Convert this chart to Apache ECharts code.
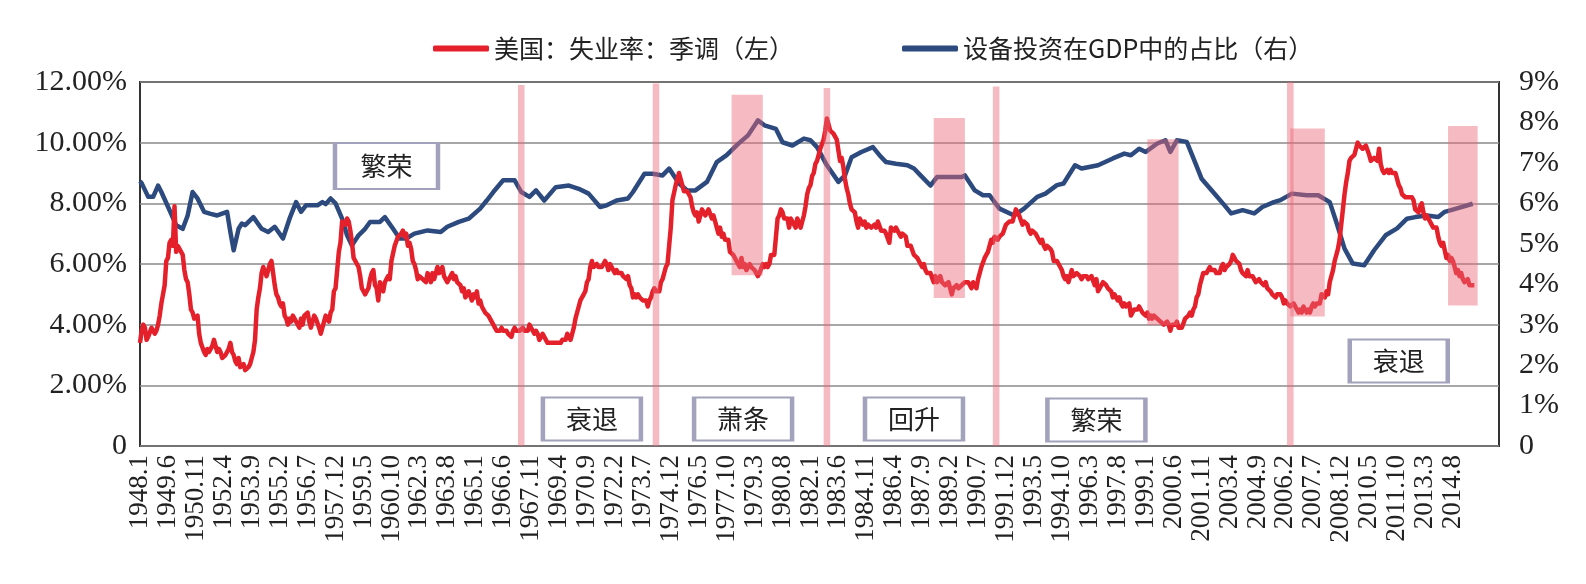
<!DOCTYPE html>
<html><head><meta charset="utf-8">
<script src="https://cdn.jsdelivr.net/npm/echarts@6/dist/echarts.min.js"></script>
<style>html,body{margin:0;padding:0;background:#fff}#c{width:1586px;height:584px}</style>
</head><body><div id="c"></div>
<script>
// ---- categories: monthly, 1948.1 .. 2016.12 ----
const firstYear = 1948, lastYear = 2016;
const categories = [];
for (let y = firstYear; y <= lastYear; y++) for (let m = 1; m <= 12; m++) categories.push(y + '.' + m);
const lastLabel = '2014.8';

// ---- series names ----
const nameUnemp = '美国：失业率：季调（左）';
const nameEquip = '设备投资在GDP中的占比（右）';

// ---- US unemployment rate, seasonally adjusted, monthly from 1948.1 (left axis, %) ----
const unemployment = [
3.4,3.8,4.0,3.9,3.5,3.6,3.6,3.9,3.8,3.7,3.8,4.0,
4.3,4.7,5.0,5.3,6.1,6.2,6.7,6.8,6.6,7.9,6.4,6.6,
6.5,6.4,6.3,5.8,5.5,5.4,5.0,4.5,4.4,4.2,4.2,4.3,
3.7,3.4,3.4,3.1,3.0,3.2,3.1,3.1,3.3,3.5,3.5,3.1,
3.2,3.1,2.9,2.9,3.0,3.0,3.2,3.4,3.1,3.0,2.8,2.7,
2.9,2.6,2.6,2.7,2.5,2.5,2.6,2.7,2.9,3.1,3.5,4.5,
4.9,5.2,5.7,5.9,5.9,5.6,5.8,6.0,6.1,5.7,5.3,5.0,
4.9,4.7,4.6,4.7,4.3,4.2,4.0,4.2,4.1,4.3,4.2,4.2,
4.0,3.9,4.2,4.0,4.3,4.3,4.4,4.1,3.9,3.9,4.3,4.2,
4.2,3.9,3.7,3.9,4.1,4.3,4.2,4.1,4.4,4.5,5.1,5.2,
5.8,6.4,6.7,7.4,7.4,7.3,7.5,7.4,7.1,6.7,6.2,6.2,
6.0,5.9,5.6,5.2,5.1,5.0,5.1,5.2,5.5,5.7,5.8,5.3,
5.2,4.8,5.4,5.2,5.1,5.4,5.5,5.6,5.5,6.1,6.1,6.6,
6.6,6.9,6.9,7.0,7.1,6.9,7.0,6.6,6.7,6.5,6.1,6.0,
5.8,5.5,5.6,5.6,5.5,5.5,5.4,5.7,5.6,5.4,5.7,5.5,
5.7,5.9,5.7,5.7,5.9,5.6,5.6,5.4,5.5,5.5,5.7,5.5,
5.6,5.4,5.4,5.3,5.1,5.2,4.9,5.0,5.1,5.1,4.8,5.0,
4.9,5.1,4.7,4.8,4.6,4.6,4.4,4.4,4.3,4.2,4.1,4.0,
4.0,3.8,3.8,3.8,3.9,3.8,3.8,3.8,3.7,3.7,3.6,3.8,
3.9,3.8,3.8,3.8,3.8,3.9,3.8,3.8,3.8,4.0,3.9,3.8,
3.7,3.8,3.7,3.5,3.5,3.7,3.7,3.5,3.4,3.4,3.4,3.4,
3.4,3.4,3.4,3.4,3.4,3.5,3.5,3.5,3.7,3.7,3.5,3.5,
3.9,4.2,4.4,4.6,4.8,4.9,5.0,5.1,5.4,5.5,5.9,6.1,
5.9,5.9,6.0,5.9,5.9,5.9,6.0,6.1,6.0,5.8,6.0,6.0,
5.8,5.7,5.8,5.7,5.7,5.7,5.6,5.6,5.5,5.6,5.3,5.2,
4.9,5.0,4.9,5.0,4.9,4.9,4.8,4.8,4.8,4.6,4.8,4.9,
5.1,5.2,5.1,5.1,5.1,5.4,5.5,5.5,5.9,6.0,6.6,7.2,
8.1,8.1,8.6,8.8,9.0,8.8,8.6,8.4,8.4,8.4,8.3,8.2,
7.9,7.7,7.6,7.7,7.4,7.6,7.8,7.8,7.6,7.7,7.8,7.8,
7.5,7.6,7.4,7.2,7.0,7.2,6.9,7.0,6.8,6.8,6.8,6.4,
6.4,6.3,6.3,6.1,6.0,5.9,6.2,5.9,6.0,5.8,5.9,6.0,
5.9,5.9,5.8,5.8,5.6,5.7,5.7,6.0,5.9,6.0,5.9,6.0,
6.3,6.3,6.3,6.9,7.5,7.6,7.8,7.7,7.5,7.5,7.5,7.2,
7.5,7.4,7.4,7.2,7.5,7.5,7.2,7.4,7.6,7.9,8.3,8.5,
8.6,8.9,9.0,9.3,9.4,9.6,9.8,9.8,10.1,10.4,10.8,10.8,
10.4,10.4,10.3,10.2,10.1,10.1,9.4,9.5,9.2,8.8,8.5,8.3,
8.0,7.8,7.8,7.7,7.4,7.2,7.5,7.5,7.3,7.4,7.2,7.3,
7.3,7.2,7.2,7.3,7.2,7.4,7.4,7.1,7.1,7.1,7.0,7.0,
6.7,7.2,7.2,7.1,7.2,7.2,7.0,6.9,7.0,7.0,6.9,6.6,
6.6,6.6,6.6,6.3,6.3,6.2,6.1,6.0,5.9,6.0,5.8,5.7,
5.7,5.7,5.7,5.4,5.6,5.4,5.4,5.6,5.4,5.4,5.3,5.3,
5.4,5.2,5.0,5.2,5.2,5.3,5.2,5.2,5.3,5.3,5.4,5.4,
5.4,5.3,5.2,5.4,5.4,5.2,5.5,5.7,5.9,5.9,6.2,6.3,
6.4,6.6,6.8,6.7,6.9,6.9,6.8,6.9,6.9,7.0,7.0,7.3,
7.3,7.4,7.4,7.4,7.6,7.8,7.7,7.6,7.6,7.3,7.4,7.4,
7.3,7.1,7.0,7.1,7.1,7.0,6.9,6.8,6.7,6.8,6.6,6.5,
6.6,6.6,6.5,6.4,6.1,6.1,6.1,6.0,5.9,5.8,5.6,5.5,
5.6,5.4,5.4,5.8,5.6,5.6,5.7,5.7,5.6,5.5,5.6,5.6,
5.6,5.5,5.5,5.6,5.6,5.3,5.5,5.1,5.2,5.2,5.4,5.4,
5.3,5.2,5.2,5.1,4.9,5.0,4.9,4.8,4.9,4.7,4.6,4.7,
4.6,4.6,4.7,4.3,4.4,4.5,4.5,4.5,4.6,4.5,4.4,4.4,
4.3,4.4,4.2,4.3,4.2,4.3,4.3,4.2,4.2,4.1,4.1,4.0,
4.0,4.1,4.0,3.8,4.0,4.0,4.0,4.1,3.9,3.9,3.9,3.9,
4.2,4.2,4.3,4.4,4.3,4.5,4.6,4.9,5.0,5.3,5.5,5.7,
5.7,5.7,5.7,5.9,5.8,5.8,5.8,5.7,5.7,5.7,5.9,6.0,
5.8,5.9,5.9,6.0,6.1,6.3,6.2,6.1,6.1,6.0,5.8,5.7,
5.7,5.6,5.8,5.6,5.6,5.6,5.5,5.4,5.4,5.5,5.4,5.4,
5.3,5.4,5.2,5.2,5.1,5.0,5.0,4.9,5.0,5.0,5.0,4.9,
4.7,4.8,4.7,4.7,4.6,4.6,4.7,4.7,4.5,4.4,4.5,4.4,
4.6,4.5,4.4,4.5,4.4,4.6,4.7,4.6,4.7,4.7,4.7,5.0,
5.0,4.9,5.1,5.0,5.4,5.6,5.8,6.1,6.1,6.5,6.8,7.3,
7.8,8.3,8.7,9.0,9.4,9.5,9.5,9.6,9.8,10.0,9.9,9.9,
9.8,9.8,9.9,9.9,9.6,9.4,9.4,9.5,9.5,9.4,9.8,9.3,
9.1,9.0,9.0,9.1,9.0,9.1,9.0,9.0,9.0,8.8,8.6,8.5,
8.3,8.3,8.2,8.2,8.2,8.2,8.2,8.1,7.8,7.8,7.7,7.9,
8.0,7.7,7.5,7.6,7.5,7.5,7.3,7.2,7.2,7.2,6.9,6.7,
6.6,6.7,6.7,6.2,6.3,6.1,6.2,6.1,5.9,5.7,5.8,5.6,
5.7,5.5,5.4,5.4,5.5,5.3,5.3,5.3,5.3
];

// ---- equipment investment share of GDP (right axis, %), read at sampled months ----
const equipShare = [
['1948.1',6.55],['1948.2',6.5],['1948.6',6.16],['1948.9',6.16],['1948.12',6.44],['1949.2',6.28],['1949.7',5.83],
['1949.11',5.46],['1950.3',5.37],['1950.6',5.7],['1950.9',6.28],['1950.12',6.12],['1951.4',5.79],['1951.8',5.74],
['1951.12',5.7],['1952.6',5.79],['1952.8',5.29],['1952.10',4.84],['1953.1',5.37],['1953.3',5.5],['1953.5',5.46],
['1953.10',5.66],['1954.3',5.37],['1954.7',5.29],['1954.11',5.42],['1955.4',5.13],['1955.8',5.62],['1955.12',6.03],
['1956.3',5.79],['1956.6',5.95],['1957.1',5.95],['1957.4',6.03],['1957.6',5.98],['1957.9',6.12],['1957.12',6.0],
['1958.4',5.62],['1958.7',5.21],['1958.10',4.96],['1959.2',5.21],['1959.6',5.37],['1959.9',5.54],['1960.3',5.54],
['1960.6',5.66],['1960.11',5.37],['1961.3',5.13],['1961.7',5.13],['1961.12',5.25],['1962.8',5.33],['1963.4',5.29],
['1963.8',5.42],['1964.3',5.54],['1964.9',5.62],['1965.4',5.87],['1965.8',6.07],['1965.12',6.28],['1966.6',6.57],
['1967.1',6.57],['1967.5',6.28],['1967.10',6.16],['1968.2',6.32],['1968.7',6.07],['1969.2',6.4],['1969.10',6.44],
['1970.4',6.36],['1970.10',6.24],['1971.5',5.91],['1971.9',5.95],['1972.3',6.07],['1972.10',6.12],['1973.1',6.28],
['1973.8',6.73],['1974.1',6.73],['1974.7',6.69],['1974.11',6.86],['1975.5',6.49],['1975.10',6.32],['1976.3',6.32],
['1976.10',6.53],['1977.4',7.02],['1977.10',7.19],['1978.5',7.47],['1978.11',7.68],['1979.5',8.05],['1979.9',7.93],
['1980.4',7.84],['1980.8',7.51],['1981.2',7.43],['1981.9',7.6],['1982.1',7.56],['1982.5',7.39],['1982.11',6.94],
['1983.6',6.53],['1983.10',6.69],['1984.2',7.14],['1984.8',7.27],['1985.3',7.39],['1985.7',7.19],['1985.11',7.02],
['1986.5',6.98],['1986.12',6.94],['1987.4',6.86],['1987.8',6.69],['1988.2',6.44],['1988.6',6.65],['1989.1',6.65],
['1989.9',6.65],['1989.11',6.69],['1990.5',6.32],['1990.10',6.2],['1991.2',6.2],['1991.8',5.87],['1992.5',5.7],
['1992.11',5.87],['1993.7',6.16],['1993.12',6.24],['1994.7',6.45],['1994.11',6.49],['1995.6',6.94],['1995.10',6.86],
['1996.8',6.94],['1997.5',7.11],['1997.12',7.23],['1998.4',7.19],['1998.9',7.35],['1999.1',7.27],['1999.8',7.48],
['2000.1',7.56],['2000.4',7.27],['2000.8',7.56],['2001.2',7.52],['2001.7',7.02],['2001.11',6.61],['2002.6',6.28],
['2003.1',5.95],['2003.5',5.75],['2003.12',5.83],['2004.7',5.75],['2004.12',5.91],['2005.7',6.03],['2005.11',6.08],
['2006.6',6.24],['2007.3',6.2],['2007.10',6.2],['2008.5',6.03],['2008.9',5.54],['2009.2',4.88],['2009.7',4.51],
['2010.2',4.47],['2010.8',4.84],['2011.3',5.21],['2011.10',5.38],['2012.4',5.62],['2012.9',5.66],['2013.4',5.7],
['2013.11',5.66],['2014.3',5.79],['2014.10',5.87],['2015.8',5.99]
];

// ---- shaded phase markers (category from/to, left-axis value bottom/top) ----
const thinBands = [['1967.3','1967.7',0,11.9],['1974.1','1974.5',0,11.95],['1982.9','1983.1',0,11.8],
                   ['1991.4','1991.8',0,11.85],['2006.3','2006.7',0,12]];
const wideBands = [['1978.1','1979.8',5.63,11.58],['1988.4','1989.11',4.88,10.81],['1999.2','2000.9',3.98,10.11],
                   ['2006.5','2008.2',4.27,10.47],['2014.5','2015.11',4.63,10.55]];

// ---- phase text boxes: label, category, left-axis value ----
const phaseNames  = ['繁荣','衰退','萧条','回升','繁荣','衰退'];
const phaseAt     = ['1960.7','1970.12','1978.8','1987.4','1996.7','2011.11'];
const phaseLevel  = [9.23, 0.89, 0.89, 0.89, 0.86, 2.8];

const pink = 'rgba(234,104,120,0.45)';
const numFont = 'Liberation Serif';
const cjkFont = 'Noto Sans CJK SC';

const areas = thinBands.concat(wideBands).map(b => [
  {coord: [b[0], b[3]], itemStyle: {color: pink}},
  {coord: [b[1], b[2]]}
]);
const boxes = phaseNames.map((n, i) => ({
  name: n, coord: [phaseAt[i], phaseLevel[i]],
  symbolSize: i === 0 ? [103, 46] : [98, 43]
}));

const legendCommon = {
  top: 31, icon: 'roundRect', itemWidth: 56, itemHeight: 6,
  textStyle: {fontFamily: cjkFont, fontSize: 25, color: '#222'}
};

const chart = echarts.init(document.getElementById('c'));
chart.setOption({
  animation: false,
  backgroundColor: '#fff',
  legend: [
    Object.assign({data: [nameUnemp], left: 428}, legendCommon),
    Object.assign({data: [nameEquip], left: 897}, legendCommon)
  ],
  grid: {left: 140, right: 87, top: 82, bottom: 138, show: true, borderColor: '#333', borderWidth: 2},
  xAxis: {
    type: 'category', data: categories, boundaryGap: false,
    axisLine: {show: false}, axisTick: {show: false},
    axisLabel: {
      rotate: 90, margin: 9, fontFamily: numFont, fontSize: 27, color: '#222',
      interval: (i) => i % 17 === 0 && i <= categories.indexOf(lastLabel)
    }
  },
  yAxis: [
    {type: 'value', min: 0, max: 12, interval: 2,
     axisLine: {show: false}, axisTick: {show: false},
     splitLine: {lineStyle: {color: '#8a8a8a', width: 1.5}},
     axisLabel: {margin: 13, fontFamily: numFont, fontSize: 30, color: '#222',
       formatter: v => v === 0 ? '0' : v.toFixed(2) + '%'}},
    {type: 'value', min: 0, max: 9, interval: 1,
     axisLine: {show: false}, axisTick: {show: false}, splitLine: {show: false},
     axisLabel: {margin: 20, fontFamily: numFont, fontSize: 30, color: '#222',
       formatter: v => v === 0 ? '0' : v + '%'}}
  ],
  series: [
    {name: nameEquip, type: 'line', yAxisIndex: 1, data: equipShare, showSymbol: false,
     color: '#2c4a7e', lineStyle: {width: 4.5, color: '#2c4a7e', join: 'round'}, z: 2},
    {name: nameUnemp, type: 'line', yAxisIndex: 0, data: unemployment, showSymbol: false,
     color: '#e4202a', lineStyle: {width: 4.5, color: '#e4202a', join: 'round'}, z: 3},
    {type: 'line', yAxisIndex: 0, data: [],
     markArea: {silent: true, z: 10, data: areas},
     markPoint: {
       silent: true, z: 20, symbol: 'rect',
       itemStyle: {color: '#fff', borderColor: '#a2a2bc', borderWidth: 3},
       label: {show: true, position: 'inside', formatter: '{b}', fontFamily: cjkFont, fontSize: 26, color: '#222'},
       data: boxes
     }}
  ]
});
</script>
</body></html>
